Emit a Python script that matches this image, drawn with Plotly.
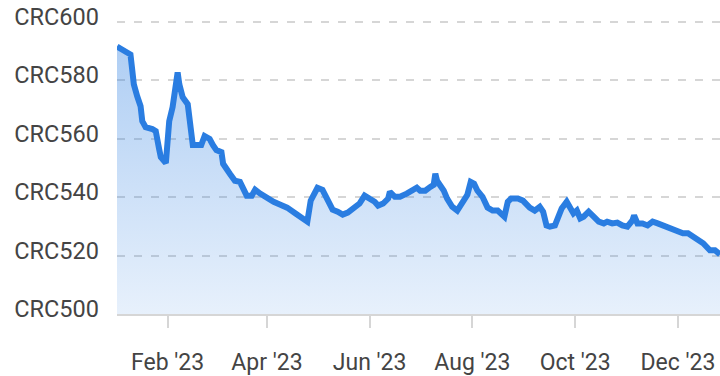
import plotly.graph_objects as go

# Daily exchange-rate series (CRC), 2023
dates = [
    "2023-01-02", "2023-01-05", "2023-01-08", "2023-01-10", "2023-01-11", "2023-01-12",
    "2023-01-14", "2023-01-16", "2023-01-17", "2023-01-19", "2023-01-23", "2023-01-25",
    "2023-01-27", "2023-01-28", "2023-01-31", "2023-02-01", "2023-02-02", "2023-02-04",
    "2023-02-06", "2023-02-07", "2023-02-08", "2023-02-10", "2023-02-13", "2023-02-14",
    "2023-02-15", "2023-02-16", "2023-02-18", "2023-02-21", "2023-02-23", "2023-02-26",
    "2023-02-28", "2023-03-02", "2023-03-05", "2023-03-06", "2023-03-10", "2023-03-13",
    "2023-03-16", "2023-03-18", "2023-03-20", "2023-03-23", "2023-03-25", "2023-03-28",
    "2023-04-01", "2023-04-05", "2023-04-09", "2023-04-13", "2023-04-18", "2023-04-22",
    "2023-04-25", "2023-04-27", "2023-04-29", "2023-05-01", "2023-05-04", "2023-05-07",
    "2023-05-10", "2023-05-13", "2023-05-16", "2023-05-19", "2023-05-22", "2023-05-26",
    "2023-05-29", "2023-06-01", "2023-06-04", "2023-06-06", "2023-06-09", "2023-06-12",
    "2023-06-13", "2023-06-16", "2023-06-19", "2023-06-23", "2023-06-26", "2023-06-29",
    "2023-07-01", "2023-07-04", "2023-07-07", "2023-07-09", "2023-07-10", "2023-07-11",
    "2023-07-13", "2023-07-15", "2023-07-17", "2023-07-20", "2023-07-23", "2023-07-25",
    "2023-07-27", "2023-07-29", "2023-07-31", "2023-08-02", "2023-08-04", "2023-08-07",
    "2023-08-10", "2023-08-13", "2023-08-16", "2023-08-19", "2023-08-20", "2023-08-22",
    "2023-08-24", "2023-08-28", "2023-08-31", "2023-09-04", "2023-09-07", "2023-09-10",
    "2023-09-12", "2023-09-14", "2023-09-16", "2023-09-19", "2023-09-21", "2023-09-23",
    "2023-09-26", "2023-09-28", "2023-09-30", "2023-10-02", "2023-10-04", "2023-10-06",
    "2023-10-09", "2023-10-12", "2023-10-15", "2023-10-18", "2023-10-20", "2023-10-23",
    "2023-10-26", "2023-10-29", "2023-11-01", "2023-11-04", "2023-11-05", "2023-11-07",
    "2023-11-10", "2023-11-13", "2023-11-16", "2023-11-19", "2023-11-22", "2023-11-26",
    "2023-12-01", "2023-12-04", "2023-12-07", "2023-12-09", "2023-12-12", "2023-12-16",
    "2023-12-20", "2023-12-23", "2023-12-26",
]

rates = [
    591.5, 590.5, 589.5, 588.8, 583.7, 578.6,
    574.5, 571.1, 566.0, 563.9, 563.3, 562.6,
    556.5, 553.7, 551.7, 558.2, 566.0, 570.8,
    578.6, 582.7, 578.6, 574.2, 571.8, 567.3,
    562.2, 557.8, 557.8, 557.8, 560.9, 559.9,
    557.8, 556.1, 555.4, 551.4, 548.0, 545.6,
    545.2, 542.9, 540.5, 540.5, 542.5, 541.2,
    539.5, 538.4, 537.4, 536.4, 534.4, 532.7,
    531.6, 538.8, 541.5, 543.2, 542.5, 539.5,
    535.7, 535.0, 534.0, 534.7, 536.1, 537.8,
    540.5, 539.5, 538.4, 537.1, 537.8, 539.5,
    541.8, 540.1, 540.1, 541.2, 542.2, 543.2,
    542.2, 542.2, 543.5, 544.2, 548.0, 545.6,
    543.9, 542.2, 539.5, 536.7, 535.4, 537.1,
    539.5, 540.8, 545.2, 544.6, 542.2, 540.1,
    536.4, 535.4, 535.4, 534.0, 533.3, 538.4,
    539.5, 539.5, 538.8, 536.4, 535.4, 536.7,
    535.0, 530.3, 529.9, 530.3, 533.7, 536.1,
    538.4, 536.1, 534.4, 535.4, 532.7, 533.3,
    535.0, 533.3, 531.6, 531.0, 531.6, 531.0,
    531.3, 530.3, 529.9, 532.0, 533.7, 531.0,
    531.0, 530.3, 531.6, 531.0, 530.3, 529.3,
    528.6, 527.6, 527.6, 526.9, 525.9, 524.2,
    521.8, 521.8, 520.4,
]

x_tick_dates = ["2023-02-01", "2023-04-01", "2023-06-01", "2023-08-01", "2023-10-01", "2023-12-01"]
x_tick_labels = ["Feb '23", "Apr '23", "Jun '23", "Aug '23", "Oct '23", "Dec '23"]
y_tick_values = [500, 520, 540, 560, 580, 600]
y_tick_labels = ["CRC500", "CRC520", "CRC540", "CRC560", "CRC580", "CRC600"]

LINE_BLUE = "#2a7de1"
TEXT_GREY = "#444444"
GRID_GREY = "#d6d6d6"

Y_MIN, Y_MAX = 500, 603
LABEL_LIFT = 1.7  # raise the value labels slightly above their gridlines

fig = go.Figure()

# transparent copy of the series that keeps the label axis active
fig.add_trace(go.Scatter(
    x=dates,
    y=rates,
    yaxis="y",
    mode="lines",
    line=dict(width=0),
    opacity=0,
    hoverinfo="skip",
    showlegend=False,
))

# the rate line with its gradient area
fig.add_trace(go.Scatter(
    x=dates,
    y=rates,
    yaxis="y2",
    mode="lines",
    line=dict(color=LINE_BLUE, width=6),
    fill="tozeroy",
    fillgradient=dict(
        type="vertical",
        start=500,
        stop=600,
        colorscale=[[0.0, "rgba(42,125,225,0.11)"], [1.0, "rgba(42,125,225,0.40)"]],
    ),
    hoverinfo="skip",
    showlegend=False,
))

fig.update_layout(
    width=720,
    height=376,
    margin=dict(l=117, r=0, t=13, b=60),
    paper_bgcolor="white",
    plot_bgcolor="white",
    font=dict(family="Roboto, sans-serif", size=23, color=TEXT_GREY),
    xaxis=dict(
        type="date",
        range=[dates[0], dates[-1]],
        tickvals=x_tick_dates,
        ticktext=x_tick_labels,
        ticks="outside",
        ticklen=12,
        tickwidth=2,
        tickcolor=GRID_GREY,
        ticklabelstandoff=14,
        showgrid=False,
        showline=True,
        linecolor=GRID_GREY,
        linewidth=2,
        zeroline=False,
        tickfont=dict(size=23, color=TEXT_GREY),
    ),
    # value labels
    yaxis=dict(
        range=[Y_MIN - LABEL_LIFT, Y_MAX - LABEL_LIFT],
        tickvals=y_tick_values,
        ticktext=y_tick_labels,
        showgrid=False,
        zeroline=False,
        showline=False,
        ticks="",
        ticklabelstandoff=17,
        tickfont=dict(size=23.5, color=TEXT_GREY),
    ),
    # gridlines and data
    yaxis2=dict(
        overlaying="y",
        side="left",
        range=[Y_MIN, Y_MAX],
        tickvals=y_tick_values,
        showticklabels=False,
        showgrid=True,
        gridcolor=GRID_GREY,
        gridwidth=2,
        griddash="8px,9px",
        zeroline=False,
        showline=False,
        ticks="",
    ),
)

fig.write_html("out.html")
